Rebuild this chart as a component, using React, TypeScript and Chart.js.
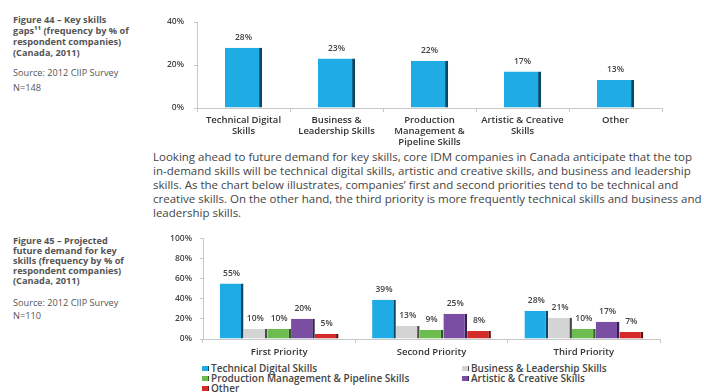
import React, { useEffect, useRef } from "react";
import { Chart, registerables } from "chart.js";

Chart.register(...registerables);

// ---- Figure 44 data ----
const skillCategories: string[][] = [
  ["Technical Digital", "Skills"],
  ["Business &", "Leadership Skills"],
  ["Production", "Management &", "Pipeline Skills"],
  ["Artistic & Creative", "Skills"],
  ["Other"],
];
const skillGaps = [28, 23, 22, 17, 13];
const fig44Ticks = [0, 20, 40];

// ---- Figure 45 data ----
const priorities = ["First Priority", "Second Priority", "Third Priority"];
const seriesNames = [
  "Technical Digital Skills",
  "Business & Leadership Skills",
  "Production Management & Pipeline Skills",
  "Artistic & Creative Skills",
  "Other",
];
const technicalDigital = [55, 39, 28];
const businessLeadership = [10, 13, 21];
const productionPipeline = [10, 9, 10];
const artisticCreative = [20, 25, 17];
const otherSkills = [5, 8, 7];
const fig45Ticks = [0, 20, 40, 60, 80, 100];

const fills = ["#1fabe3", "#d4d4d4", "#6cbd4e", "#7a4ea3", "#d42a2a"];
const edges = ["#0b4866", "#4a4a4a", "#2c5a20", "#35204d", "#641010"];

const FONT = "'Open Sans', 'DejaVu Sans', sans-serif";

const valueLabels = {
  id: "valueLabels",
  afterDatasetsDraw(chart: any) {
    const ctx = chart.ctx;
    ctx.save();
    ctx.fillStyle = "#444";
    ctx.font = `600 8.5px ${FONT}`;
    ctx.textAlign = "center";
    ctx.textBaseline = "middle";
    chart.data.datasets.forEach((ds: any, i: number) => {
      const meta = chart.getDatasetMeta(i);
      meta.data.forEach((bar: any, j: number) => {
        ctx.fillText(ds.data[j] + "%", bar.x, bar.y - 10);
      });
    });
    ctx.restore();
  },
};

function Fig44() {
  const ref = useRef<HTMLCanvasElement>(null);
  useEffect(() => {
    const chart = new Chart(ref.current!, {
      type: "bar",
      data: {
        labels: skillCategories,
        datasets: [
          {
            data: skillGaps,
            backgroundColor: fills[0],
            borderColor: edges[0],
            borderWidth: { top: 0, left: 0, bottom: 0, right: 3 },
            borderSkipped: false,
            barPercentage: 0.4,
            categoryPercentage: 1,
          },
        ],
      },
      options: {
        animation: false,
        responsive: false,
        layout: { padding: { top: 22, right: 42, left: 0, bottom: 0 } },
        plugins: { legend: { display: false }, tooltip: { enabled: false } },
        scales: {
          y: {
            min: 0,
            max: 40,
            afterBuildTicks: (s: any) => {
              s.ticks = fig44Ticks.map((v) => ({ value: v }));
            },
            afterFit: (s: any) => {
              s.width = 47;
            },
            ticks: {
              callback: (v: any) => v + "%",
              color: "#444",
              font: { family: FONT, size: 8.5, weight: "600" },
              padding: 10,
            },
            grid: { drawOnChartArea: false, color: "#c8c8c8", tickLength: 3 },
            border: { color: "#c8c8c8" },
          },
          x: {
            offset: true,
            afterFit: (s: any) => {
              s.height = 40;
            },
            ticks: {
              color: "#333",
              font: { family: FONT, size: 9.5, weight: "600", lineHeight: 1.15 },
              padding: 3,
              maxRotation: 0,
              autoSkip: false,
            },
            grid: { drawOnChartArea: false, offset: true, color: "#c8c8c8", tickLength: 4 },
            border: { color: "#c8c8c8" },
          },
        },
      },
      plugins: [valueLabels],
    });
    return () => chart.destroy();
  }, []);
  return (
    <canvas
      ref={ref}
      width={554}
      height={148}
      style={{ position: "absolute", left: 150, top: 0, width: 554, height: 148 }}
    />
  );
}

function Fig45() {
  const ref = useRef<HTMLCanvasElement>(null);
  useEffect(() => {
    const series = [technicalDigital, businessLeadership, productionPipeline, artisticCreative, otherSkills];
    const chart = new Chart(ref.current!, {
      type: "bar",
      data: {
        labels: priorities,
        datasets: series.map((d, i) => ({
          label: seriesNames[i],
          data: d,
          backgroundColor: fills[i],
          borderColor: edges[i],
          borderWidth: { top: 0, left: 0, bottom: 0, right: 2.5 },
          borderSkipped: false,
          barPercentage: 1,
          categoryPercentage: 0.78,
        })),
      },
      options: {
        animation: false,
        responsive: false,
        layout: { padding: { top: 12, right: 44, left: 0, bottom: 0 } },
        plugins: { legend: { display: false }, tooltip: { enabled: false } },
        scales: {
          y: {
            min: 0,
            max: 100,
            afterBuildTicks: (s: any) => {
              s.ticks = fig45Ticks.map((v) => ({ value: v }));
            },
            afterFit: (s: any) => {
              s.width = 53;
            },
            ticks: {
              callback: (v: any) => v + "%",
              color: "#444",
              font: { family: FONT, size: 8.5, weight: "600" },
              padding: 8,
            },
            grid: { drawOnChartArea: false, color: "#c8c8c8", tickLength: 3 },
            border: { color: "#c8c8c8" },
          },
          x: {
            offset: true,
            afterFit: (s: any) => {
              s.height = 21;
            },
            ticks: {
              color: "#333",
              font: { family: FONT, size: 9.5, weight: "600" },
              padding: 4,
              maxRotation: 0,
              autoSkip: false,
            },
            grid: { drawOnChartArea: false, offset: true, color: "#c8c8c8", tickLength: 4 },
            border: { color: "#c8c8c8" },
          },
        },
      },
      plugins: [valueLabels],
    });
    return () => chart.destroy();
  }, []);
  return (
    <canvas
      ref={ref}
      width={554}
      height={135}
      style={{ position: "absolute", left: 150, top: 225, width: 554, height: 135 }}
    />
  );
}

const captionStyle: React.CSSProperties = {
  position: "absolute",
  left: 13,
  fontFamily: FONT,
  fontSize: 9.2,
  color: "#555",
  whiteSpace: "nowrap",
};

const fig44Caption = ["Figure 44 \u2013 Key skills", "gaps\u00b9\u00b9 (frequency by % of", "respondent companies)", "(Canada, 2011)"];
const fig45Caption = [
  "Figure 45 \u2013 Projected",
  "future demand for key",
  "skills (frequency by % of",
  "respondent companies)",
  "(Canada, 2011)",
];

const paragraphLines = [
  "Looking ahead to future demand for key skills, core IDM companies in Canada anticipate that the top",
  "in-demand skills will be technical digital skills, artistic and creative skills, and business and leadership",
  "skills. As the chart below illustrates, companies\u2019 first and second priorities tend to be technical and",
  "creative skills. On the other hand, the third priority is more frequently technical skills and business and",
  "leadership skills.",
];

const legendCells = [
  { idx: 0, left: 202, top: 368 },
  { idx: 1, left: 462, top: 368 },
  { idx: 2, left: 202, top: 378 },
  { idx: 3, left: 462, top: 378 },
  { idx: 4, left: 202, top: 388 },
];

export default function App() {
  return (
    <div
      style={{
        position: "fixed",
        left: 0,
        top: 0,
        width: 704,
        height: 392,
        background: "#fff",
        overflow: "hidden",
      }}
    >
      <div style={{ ...captionStyle, top: 13.5, lineHeight: "11px" }}>
        {fig44Caption.map((l, i) => (
          <div key={i} style={{ fontWeight: 700 }}>{l}</div>
        ))}
        <div style={{ marginTop: 9.5 }}>Source: 2012 CIIP Survey</div>
        <div style={{ marginTop: 4 }}>N=148</div>
      </div>
      <Fig44 />
      <div
        style={{
          position: "absolute",
          left: 153,
          top: 150,
          fontFamily: FONT,
          fontSize: 11.5,
          lineHeight: "14px",
          color: "#444",
          whiteSpace: "nowrap",
        }}
      >
        {paragraphLines.map((l, i) => (
          <div key={i}>{l}</div>
        ))}
      </div>
      <div style={{ ...captionStyle, top: 236, lineHeight: "10px" }}>
        {fig45Caption.map((l, i) => (
          <div key={i} style={{ fontWeight: 700 }}>{l}</div>
        ))}
        <div style={{ marginTop: 11.5 }}>Source: 2012 CIIP Survey</div>
        <div style={{ marginTop: 3 }}>N=110</div>
      </div>
      <Fig45 />
      {legendCells.map((c) => (
        <div
          key={c.idx}
          style={{
            position: "absolute",
            left: c.left,
            top: c.top - 6,
            height: 12,
            display: "flex",
            alignItems: "center",
            fontFamily: FONT,
            fontSize: 10,
            fontWeight: 600,
            color: "#444",
            whiteSpace: "nowrap",
          }}
        >
          <span
            style={{
              display: "inline-block",
              width: 6,
              height: 5,
              background: fills[c.idx],
              borderRight: `1px solid ${edges[c.idx]}`,
              marginRight: 2,
            }}
          />
          {seriesNames[c.idx]}
        </div>
      ))}
    </div>
  );
}
